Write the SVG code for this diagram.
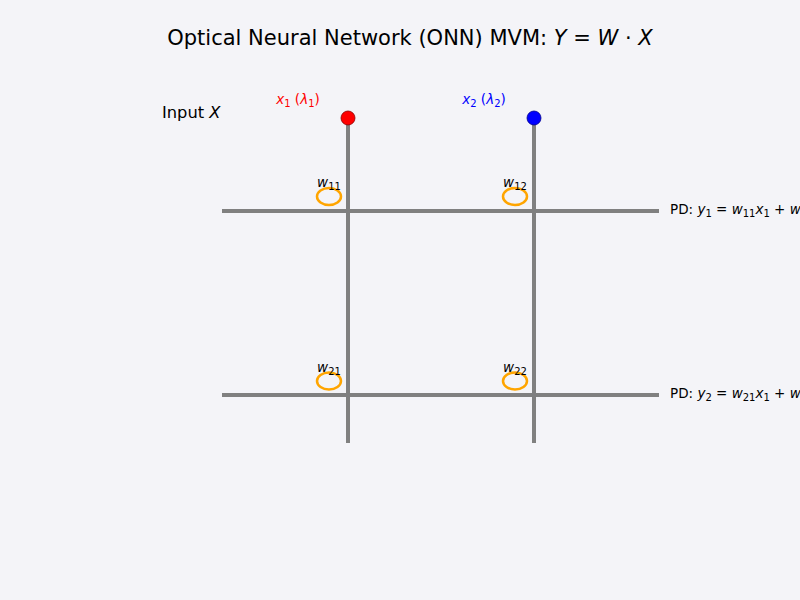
<svg xmlns="http://www.w3.org/2000/svg" width="800" height="600" viewBox="0 0 800 600">
<style>
text{font-family:"DejaVu Sans",sans-serif;fill:#000}
.i{font-style:italic}
.wg{stroke:#808080;stroke-width:4;fill:none}
.ring{fill:none;stroke:#FFA500;stroke-width:2.5}
.lbl{font-size:13.5px}
.sub{font-size:10px}
</style>
<rect width="800" height="600" fill="#F4F4F8"/>
<text x="410" y="44.5" font-size="21" text-anchor="middle">Optical Neural Network (ONN) MVM: <tspan class="i">Y</tspan> = <tspan class="i">W</tspan> · <tspan class="i">X</tspan></text>
<text x="162" y="118" font-size="16.3">Input <tspan class="i">X</tspan></text>
<g id="connectors">
<line class="wg" x1="348" y1="118" x2="348" y2="443"/>
<line class="wg" x1="534" y1="118" x2="534" y2="443"/>
<line class="wg" x1="222" y1="211" x2="659" y2="211"/>
<line class="wg" x1="222" y1="395" x2="659" y2="395"/>
</g>
<g id="in1">
<circle cx="348" cy="118" r="7" fill="#FF0000" stroke="#8B0000" stroke-width="0.8"/>
<text x="298" y="104" class="lbl" text-anchor="middle" style="fill:#FF0000"><tspan class="i" style="fill:#FF0000">x</tspan><tspan class="sub" dy="3" style="fill:#FF0000">1</tspan><tspan dy="-3" style="fill:#FF0000"> (</tspan><tspan class="i" style="fill:#FF0000">λ</tspan><tspan class="sub" dy="3" style="fill:#FF0000">1</tspan><tspan dy="-3" style="fill:#FF0000">)</tspan></text>
</g>
<g id="in2">
<circle cx="534" cy="118" r="7" fill="#0000FF" stroke="#00008B" stroke-width="0.8"/>
<text x="484" y="104" class="lbl" text-anchor="middle" style="fill:#0000FF"><tspan class="i" style="fill:#0000FF">x</tspan><tspan class="sub" dy="3" style="fill:#0000FF">2</tspan><tspan dy="-3" style="fill:#0000FF"> (</tspan><tspan class="i" style="fill:#0000FF">λ</tspan><tspan class="sub" dy="3" style="fill:#0000FF">2</tspan><tspan dy="-3" style="fill:#0000FF">)</tspan></text>
</g>
<g id="w11">
<ellipse class="ring" cx="329" cy="196.5" rx="12" ry="8.5"/>
<text x="329" y="187" class="lbl" text-anchor="middle"><tspan class="i">w</tspan><tspan class="sub" dy="3">11</tspan></text>
</g>
<g id="w12">
<ellipse class="ring" cx="515" cy="196.5" rx="12" ry="8.5"/>
<text x="515" y="187" class="lbl" text-anchor="middle"><tspan class="i">w</tspan><tspan class="sub" dy="3">12</tspan></text>
</g>
<g id="w21">
<ellipse class="ring" cx="329" cy="381" rx="12" ry="8.5"/>
<text x="329" y="372" class="lbl" text-anchor="middle"><tspan class="i">w</tspan><tspan class="sub" dy="3">21</tspan></text>
</g>
<g id="w22">
<ellipse class="ring" cx="515" cy="381" rx="12" ry="8.5"/>
<text x="515" y="372" class="lbl" text-anchor="middle"><tspan class="i">w</tspan><tspan class="sub" dy="3">22</tspan></text>
</g>
<g id="pd1">
<text x="670" y="214" class="lbl">PD: <tspan class="i">y</tspan><tspan class="sub" dy="3">1</tspan><tspan dy="-3"> = </tspan><tspan class="i">w</tspan><tspan class="sub" dy="3">11</tspan><tspan class="i" dy="-3">x</tspan><tspan class="sub" dy="3">1</tspan><tspan dy="-3"> + </tspan><tspan class="i">w</tspan><tspan class="sub" dy="3">12</tspan><tspan class="i" dy="-3">x</tspan><tspan class="sub" dy="3">2</tspan></text>
</g>
<g id="pd2">
<text x="670" y="398" class="lbl">PD: <tspan class="i">y</tspan><tspan class="sub" dy="3">2</tspan><tspan dy="-3"> = </tspan><tspan class="i">w</tspan><tspan class="sub" dy="3">21</tspan><tspan class="i" dy="-3">x</tspan><tspan class="sub" dy="3">1</tspan><tspan dy="-3"> + </tspan><tspan class="i">w</tspan><tspan class="sub" dy="3">22</tspan><tspan class="i" dy="-3">x</tspan><tspan class="sub" dy="3">2</tspan></text>
</g>
</svg>
